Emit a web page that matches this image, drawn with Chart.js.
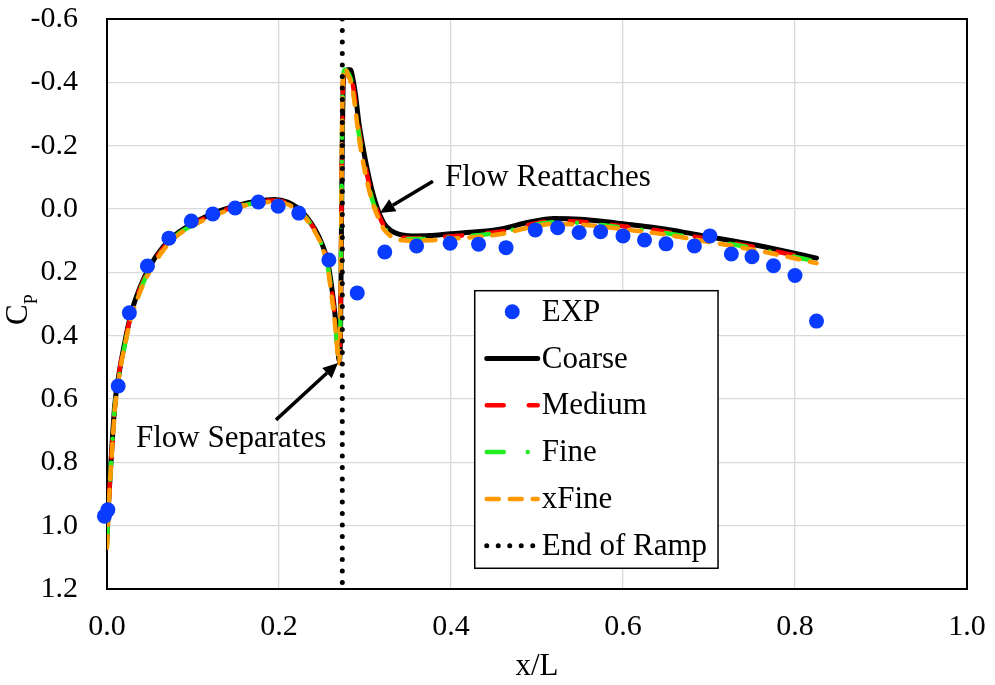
<!DOCTYPE html>
<html>
<head>
<meta charset="utf-8">
<script src="https://cdn.jsdelivr.net/npm/chart.js@4.4.1/dist/chart.umd.min.js"></script>
<style>
	html, body { margin: 0; padding: 0; background: #fff; }
	canvas { display: block; }
</style>
</head>
<body>
<canvas id="cp-chart" width="995" height="685"></canvas>
<script>
'use strict';

// experimental pressure coefficient
const expX = [-0.003, 0.001, 0.013, 0.026, 0.047, 0.072, 0.098, 0.123, 0.149, 0.176, 0.199, 0.223, 0.258, 0.291, 0.323, 0.360, 0.399, 0.432, 0.464, 0.498, 0.524, 0.549, 0.574, 0.600, 0.625, 0.650, 0.683, 0.701, 0.726, 0.750, 0.775, 0.800, 0.825];
const expCp = [0.97, 0.95, 0.559, 0.328, 0.18, 0.092, 0.038, 0.016, -0.003, -0.022, -0.009, 0.013, 0.161, 0.265, 0.136, 0.117, 0.108, 0.111, 0.122, 0.066, 0.059, 0.074, 0.072, 0.085, 0.098, 0.11, 0.117, 0.085, 0.142, 0.151, 0.179, 0.21, 0.354];

// CFD surface stations (shared by all meshes)
const cfdX = [0.000, 0.002, 0.005, 0.009, 0.014, 0.020, 0.028, 0.038, 0.050, 0.065, 0.080, 0.100, 0.125, 0.150, 0.175, 0.195, 0.210, 0.222, 0.232, 0.242, 0.250, 0.256, 0.261, 0.265, 0.268, 0.270, 0.2715, 0.2725, 0.2735, 0.2745, 0.2755, 0.277, 0.280, 0.283, 0.286, 0.289, 0.293, 0.298, 0.303, 0.309, 0.315, 0.322, 0.330, 0.340, 0.355, 0.375, 0.400, 0.430, 0.460, 0.490, 0.520, 0.550, 0.580, 0.610, 0.640, 0.670, 0.700, 0.730, 0.760, 0.790, 0.810, 0.825];
const coarseCp = [1.04, 0.92, 0.78, 0.62, 0.52, 0.43, 0.33, 0.25, 0.18, 0.12, 0.08, 0.045, 0.012, -0.010, -0.025, -0.030, -0.022, -0.003, 0.025, 0.065, 0.11, 0.16, 0.24, 0.33, 0.42, 0.48, 0.40, 0.10, -0.20, -0.38, -0.42, -0.435, -0.44, -0.44, -0.41, -0.36, -0.27, -0.19, -0.12, -0.05, 0.003, 0.045, 0.068, 0.080, 0.085, 0.084, 0.078, 0.072, 0.062, 0.042, 0.030, 0.032, 0.040, 0.050, 0.060, 0.073, 0.088, 0.102, 0.117, 0.134, 0.146, 0.155];
const mediumCp = [1.05, 0.93, 0.79, 0.63, 0.52, 0.43, 0.335, 0.255, 0.185, 0.125, 0.083, 0.048, 0.015, -0.008, -0.022, -0.027, -0.019, 0.000, 0.028, 0.068, 0.113, 0.165, 0.25, 0.34, 0.43, 0.48, 0.36, 0.05, -0.24, -0.40, -0.43, -0.44, -0.435, -0.425, -0.39, -0.335, -0.25, -0.17, -0.10, -0.035, 0.012, 0.053, 0.076, 0.088, 0.092, 0.091, 0.086, 0.080, 0.070, 0.050, 0.038, 0.040, 0.048, 0.058, 0.068, 0.081, 0.095, 0.109, 0.124, 0.141, 0.153, 0.162];
const fineCp = [1.06, 0.93, 0.79, 0.63, 0.53, 0.44, 0.34, 0.26, 0.19, 0.128, 0.085, 0.05, 0.017, -0.006, -0.020, -0.025, -0.017, 0.002, 0.030, 0.070, 0.115, 0.17, 0.26, 0.35, 0.44, 0.49, 0.34, 0.02, -0.27, -0.41, -0.435, -0.44, -0.43, -0.415, -0.38, -0.32, -0.235, -0.155, -0.09, -0.025, 0.018, 0.058, 0.080, 0.092, 0.095, 0.094, 0.089, 0.083, 0.073, 0.054, 0.042, 0.044, 0.052, 0.062, 0.072, 0.085, 0.099, 0.113, 0.128, 0.145, 0.157, 0.166];
const xFineCp = [1.07, 0.94, 0.80, 0.64, 0.53, 0.44, 0.345, 0.265, 0.195, 0.132, 0.088, 0.053, 0.02, -0.004, -0.018, -0.023, -0.015, 0.005, 0.033, 0.073, 0.118, 0.175, 0.27, 0.36, 0.45, 0.49, 0.32, -0.01, -0.30, -0.42, -0.44, -0.445, -0.425, -0.405, -0.37, -0.31, -0.225, -0.145, -0.08, -0.018, 0.025, 0.064, 0.086, 0.097, 0.100, 0.099, 0.094, 0.088, 0.078, 0.059, 0.047, 0.049, 0.057, 0.067, 0.077, 0.090, 0.104, 0.118, 0.133, 0.150, 0.162, 0.171];

// end of ramp marker
const rampX = [0.2736, 0.2736];
const rampCp = [-0.6, 1.2];

const xTicks = [0, 0.2, 0.4, 0.6, 0.8, 1.0];
const yTicks = [-0.6, -0.4, -0.2, 0.0, 0.2, 0.4, 0.6, 0.8, 1.0, 1.2];

// annotations: text baseline start and arrow tail -> head, in data units
const notes = [
	{ text: 'Flow Separates', at: [0.0337, 0.7515], from: [0.1965, 0.666], to: [0.2686, 0.486] },
	{ text: 'Flow Reattaches', at: [0.393, -0.0726], from: [0.379, -0.088], to: [0.3174, 0.013] }
];

const SERIF = "'Liberation Serif', 'Times New Roman', serif";

function toPoints(xs, ys) {
	return xs.map((x, i) => ({ x: x, y: ys[i] }));
}

function fmt(v) {
	if (Math.abs(v) < 1e-9) return '0.0';
	return v.toFixed(1);
}

/**
 * Arrow with filled head at (x2, y2)
 */
function drawArrow(ctx, x1, y1, x2, y2) {
	const ang = Math.atan2(y2 - y1, x2 - x1);
	const len = 15, half = 7;
	const bx = x2 - len * Math.cos(ang);
	const by = y2 - len * Math.sin(ang);
	ctx.lineWidth = 3.5;
	ctx.strokeStyle = '#000';
	ctx.beginPath();
	ctx.moveTo(x1, y1);
	ctx.lineTo(bx, by);
	ctx.stroke();
	ctx.beginPath();
	ctx.moveTo(x2, y2);
	ctx.lineTo(bx + half * Math.sin(ang), by - half * Math.cos(ang));
	ctx.lineTo(bx - half * Math.sin(ang), by + half * Math.cos(ang));
	ctx.closePath();
	ctx.fillStyle = '#000';
	ctx.fill();
}

// black frame around the plot area
const framePlugin = {
	id: 'frame',
	beforeDatasetsDraw(chart) {
		const a = chart.chartArea;
		const ctx = chart.ctx;
		ctx.save();
		ctx.strokeStyle = '#000';
		ctx.lineWidth = 2;
		ctx.strokeRect(a.left, a.top, a.right - a.left, a.bottom - a.top);
		ctx.restore();
	}
};

const notesPlugin = {
	id: 'notes',
	afterDatasetsDraw(chart) {
		const ctx = chart.ctx;
		const sx = chart.scales.x, sy = chart.scales.y;
		ctx.save();
		for (const n of notes) {
			ctx.font = '31px ' + SERIF;
			ctx.fillStyle = '#000';
			ctx.textBaseline = 'alphabetic';
			ctx.textAlign = 'left';
			ctx.fillText(n.text, sx.getPixelForValue(n.at[0]), sy.getPixelForValue(n.at[1]));
			drawArrow(ctx, sx.getPixelForValue(n.from[0]), sy.getPixelForValue(n.from[1]),
				sx.getPixelForValue(n.to[0]), sy.getPixelForValue(n.to[1]));
		}
		ctx.restore();
	}
};

// legend drawn inside the plot, like the spreadsheet one
const insideLegend = {
	id: 'insideLegend',
	afterDatasetsDraw(chart, args, opts) {
		const ctx = chart.ctx;
		const sx = chart.scales.x, sy = chart.scales.y;
		const left = sx.getPixelForValue(opts.box[0]);
		const top = sy.getPixelForValue(opts.box[1]);
		const right = sx.getPixelForValue(opts.box[2]);
		const bottom = sy.getPixelForValue(opts.box[3]);
		ctx.save();
		ctx.fillStyle = '#fff';
		ctx.fillRect(left, top, right - left, bottom - top);
		ctx.strokeStyle = '#000';
		ctx.lineWidth = 1.5;
		ctx.strokeRect(left, top, right - left, bottom - top);

		const x0 = left + 12, x1 = left + 63;
		chart.data.datasets.forEach((ds, i) => {
			const yy = top + 21 + i * 46.8;
			if (ds.showLine === false) {
				ctx.beginPath();
				ctx.arc((x0 + x1) / 2, yy, ds.pointRadius, 0, Math.PI * 2);
				ctx.fillStyle = ds.backgroundColor;
				ctx.fill();
			} else {
				ctx.beginPath();
				ctx.setLineDash(ds.borderDash || []);
				ctx.lineCap = ds.borderCapStyle || 'butt';
				ctx.lineWidth = ds.borderWidth;
				ctx.strokeStyle = ds.borderColor;
				ctx.moveTo(x0, yy);
				ctx.lineTo(x1, yy);
				ctx.stroke();
				ctx.setLineDash([]);
			}
			ctx.fillStyle = '#000';
			ctx.font = '31px ' + SERIF;
			ctx.textBaseline = 'middle';
			ctx.textAlign = 'left';
			ctx.fillText(ds.label, left + 67, yy + 1);
		});
		ctx.restore();
	}
};

// y axis title C with subscript P
const yTitlePlugin = {
	id: 'yTitle',
	afterDraw(chart) {
		const ctx = chart.ctx;
		ctx.save();
		ctx.translate(27, 325);
		ctx.rotate(-Math.PI / 2);
		ctx.fillStyle = '#000';
		ctx.textBaseline = 'alphabetic';
		ctx.textAlign = 'left';
		ctx.font = '31px ' + SERIF;
		ctx.fillText('C', 0, 0);
		const w = ctx.measureText('C').width;
		ctx.font = '18px ' + SERIF;
		ctx.fillText('P', w, 10);
		ctx.restore();
	}
};

function lineSet(label, ys, color, width, dash, order) {
	return {
		label: label,
		data: toPoints(cfdX, ys),
		showLine: true,
		borderColor: color,
		borderWidth: width,
		borderDash: dash,
		borderCapStyle: 'round',
		borderJoinStyle: 'round',
		pointRadius: 0,
		cubicInterpolationMode: 'monotone',
		order: order
	};
}

function createChart() {
	const ctx = document.getElementById('cp-chart');
	const tickFont = { family: SERIF, size: 30 };

	return new Chart(ctx, {
		type: 'scatter',
		data: {
			datasets: [
				{
					label: 'EXP',
					data: toPoints(expX, expCp),
					showLine: false,
					pointRadius: 7.5,
					pointBorderWidth: 0,
					backgroundColor: 'rgb(10,60,255)',
					borderColor: 'rgb(10,60,255)',
					clip: false,
					order: 0
				},
				lineSet('Coarse', coarseCp, '#000000', 5, [], 5),
				lineSet('Medium', mediumCp, '#ff0000', 4.5, [17, 25], 4),
				lineSet('Fine', fineCp, '#22ee22', 4.5, [17, 24, 0, 24], 3),
				lineSet('xFine', xFineCp, '#ff9900', 4.5, [12, 11], 2),
				{
					label: 'End of Ramp',
					data: toPoints(rampX, rampCp),
					showLine: true,
					borderColor: '#000',
					borderWidth: 5,
					borderDash: [0, 11.5],
					borderCapStyle: 'round',
					pointRadius: 0,
					order: 1
				}
			]
		},
		options: {
			responsive: false,
			animation: false,
			layout: { padding: { top: 19, right: 28, left: 0, bottom: 0 } },
			plugins: {
				legend: { display: false },
				tooltip: { enabled: false },
				insideLegend: { box: [0.4276, 0.258, 0.7105, 1.1345] }
			},
			scales: {
				x: {
					type: 'linear',
					min: 0,
					max: 1,
					afterBuildTicks: (s) => { s.ticks = xTicks.map(v => ({ value: v })); },
					afterFit: (s) => {
						s.height = 96;
						s.paddingLeft = 0;
						s.paddingRight = 0;
					},
					ticks: { font: tickFont, color: '#000', padding: 20, callback: fmt, maxRotation: 0 },
					grid: { color: '#d9d9d9', lineWidth: 1.3, drawTicks: false },
					border: { display: false },
					title: { display: true, text: 'x/L', color: '#000', font: { family: SERIF, size: 31 }, padding: 0 }
				},
				y: {
					type: 'linear',
					reverse: true,
					min: -0.6,
					max: 1.2,
					afterBuildTicks: (s) => { s.ticks = yTicks.map(v => ({ value: v })); },
					afterFit: (s) => {
						s.width = 107;
						s.paddingTop = 0;
						s.paddingBottom = 0;
					},
					ticks: { font: tickFont, color: '#000', padding: 29, callback: fmt },
					grid: { color: '#d9d9d9', lineWidth: 1.3, drawTicks: false },
					border: { display: false }
				}
			}
		},
		plugins: [framePlugin, notesPlugin, insideLegend, yTitlePlugin]
	});
}

createChart();
</script>
</body>
</html>
